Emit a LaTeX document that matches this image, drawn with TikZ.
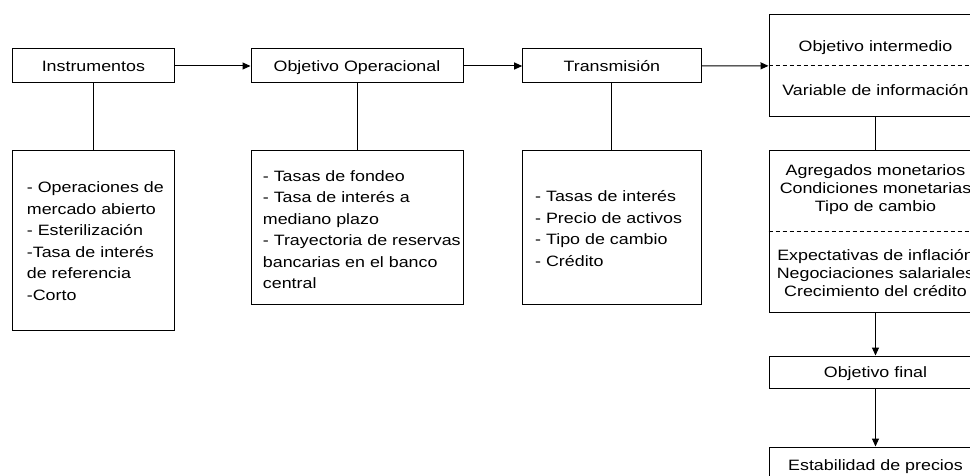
\documentclass[tikz,border=0pt]{standalone}
\usepackage{fontspec}
\setmainfont[FakeStretch=1.19]{Liberation Sans}
\usetikzlibrary{arrows.meta}
\begin{document}
\begin{tikzpicture}[x=1pt,y=-1pt,
  font=\fontsize{15}{21.5}\selectfont,
  box/.style={draw, line width=1pt, inner sep=0pt},
  one/.style={box, text height=10.7pt, text depth=0pt},
  lst/.style={inner sep=0pt, align=left, anchor=base west},
  ctr/.style={inner sep=0pt, align=center, anchor=base},
  arr/.style={-{Triangle[length=8pt,width=7pt]}, line width=1pt},
  conn/.style={line width=1pt},
  sep/.style={line width=1pt, dash pattern=on 4pt off 3pt}]
\useasboundingbox (0,0) rectangle (970,476);
\clip (0,0) rectangle (970,476);

% top row
\node[one, minimum width=161.3pt, minimum height=34pt] (ins) at (93.35,66) {Instrumentos};
\node[one, minimum width=212pt, minimum height=34pt] (oper) at (357,66) {Objetivo Operacional};
\node[one, minimum width=178.3pt, minimum height=34pt] (trans) at (611.85,66) {Transmisión};
\node[box, minimum width=213pt, minimum height=101.7pt] (inter) at (875.5,65.85) {};
\draw[sep] (inter.west) -- (inter.east);
\node[ctr] (tinter) at (875.5,51.5) {Objetivo intermedio};
\node[ctr] (tvar) at (875.5,96) {Variable de información};

% lower boxes
\node[box, minimum width=161.3pt, minimum height=179pt] (l1) at (93.35,240.5) {};
\node[lst] (tl1) at (26.7,300) {- Operaciones de\\mercado abierto\\- Esterilización\\-Tasa de interés\\de referencia\\-Corto};
\node[box, minimum width=212pt, minimum height=153pt] (l2) at (357,227.5) {};
\node[lst] (tl2) at (262.7,288.5) {- Tasas de fondeo\\- Tasa de interés a\\mediano plazo\\- Trayectoria de reservas\\bancarias en el banco\\central};
\node[box, minimum width=178.3pt, minimum height=153pt] (l3) at (611.85,227.5) {};
\node[lst] (tl3) at (535,266.2) {- Tasas de interés\\- Precio de activos\\- Tipo de cambio\\- Crédito};

% right column
\node[box, minimum width=213pt, minimum height=161pt] (r2) at (875.5,231.5) {};
\draw[sep] (r2.west) -- (r2.east);
\node[ctr, font=\fontsize{15}{18.3}\selectfont] (tr2a) at (875.5,211.6) {Agregados monetarios\\Condiciones monetarias\\Tipo de cambio};
\node[ctr, font=\fontsize{15}{18.3}\selectfont] (tr2b) at (875.5,296.6) {Expectativas de inflación\\Negociaciones salariales\\Crecimiento del crédito};
\node[one, minimum width=213pt, minimum height=32pt] (fin) at (875.5,372) {Objetivo final};
\node[one, minimum width=213pt, minimum height=37pt] (est) at (875.5,465.5) {Estabilidad de precios};

% connectors
\draw[arr] (ins.east) -- (oper.west);
\draw[arr] (oper.east) -- (trans.west);
\draw[arr] (trans.east) -- (inter.west);
\draw[conn] (ins.south) -- (l1.north);
\draw[conn] (oper.south) -- (l2.north);
\draw[conn] (trans.south) -- (l3.north);
\draw[conn] (inter.south) -- (r2.north);
\draw[arr] (r2.south) -- (fin.north);
\draw[arr] (fin.south) -- (est.north);
\end{tikzpicture}
\end{document}
